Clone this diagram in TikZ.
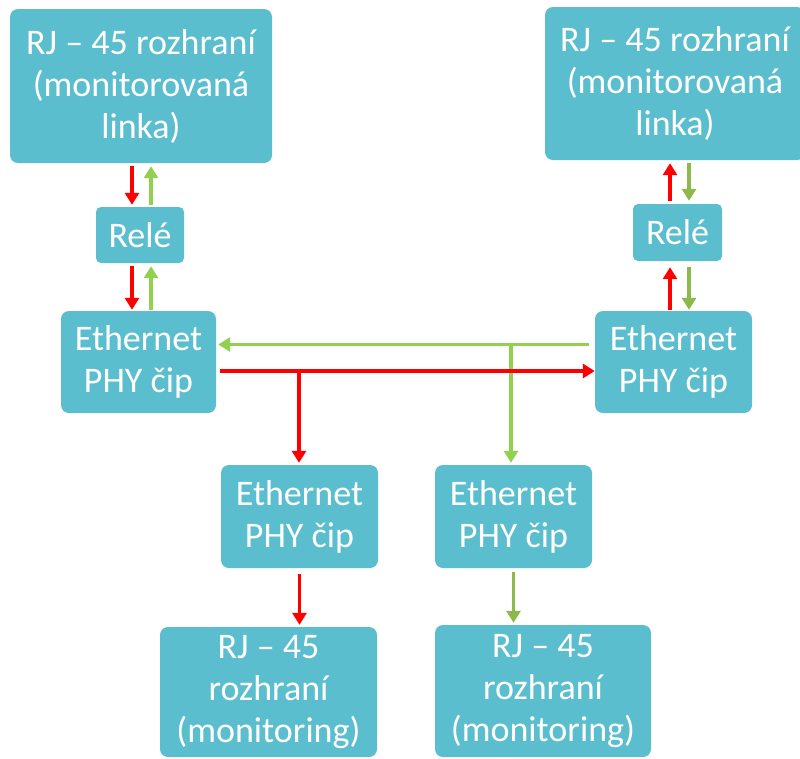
\documentclass[tikz,border=0pt]{standalone}
\usepackage{fontspec}
\setmainfont{Carlito}
\usetikzlibrary{arrows.meta}
\definecolor{boxfill}{RGB}{91,190,206}
\definecolor{arrred}{RGB}{255,0,0}
\definecolor{arrgreen}{RGB}{146,208,80}
\definecolor{arrolive}{RGB}{141,184,76}
\tikzset{
  box/.style={rectangle, rounded corners=8pt, fill=boxfill, text=white, align=center,
    inner sep=0pt, font=\fontsize{36}{42}\selectfont},
  smallbox/.style={box, rounded corners=5pt},
  tip/.style={-{Triangle[width=14pt,length=12pt]}},
  redarr/.style={draw=arrred, line width=3.6pt, tip},
  greenarr/.style={draw=arrgreen, line width=3.6pt, tip},
  olivearr/.style={draw=arrolive, line width=3.6pt, tip},
}
\begin{document}
\begin{tikzpicture}[x=1pt,y=-1pt]
\useasboundingbox (0,0) rectangle (800,758);
\clip (0,0) rectangle (800,758);
\fill[white] (0,0) rectangle (800,758);
% boxes
\node[box, minimum width=262pt, minimum height=154pt] (rjTL) at (141,86) {RJ – 45 rozhraní\\(monitorovaná\\linka)};
\node[box, minimum width=260pt, minimum height=153pt] (rjTR) at (675,83.5) {RJ – 45 rozhraní\\(monitorovaná\\linka)};
\node[smallbox, minimum width=88pt, minimum height=56pt] (releL) at (140,235) {Relé};
\node[smallbox, minimum width=89pt, minimum height=57pt] (releR) at (677.5,232.5) {Relé};
\node[box, minimum width=155pt, minimum height=102pt] (ethL) at (138.5,362) {Ethernet\\PHY čip};
\node[box, minimum width=157pt, minimum height=102pt] (ethR) at (673.5,362) {Ethernet\\PHY čip};
\node[box, minimum width=157pt, minimum height=103pt] (ethML) at (299.5,516.5) {Ethernet\\PHY čip};
\node[box, minimum width=157pt, minimum height=103pt] (ethMR) at (513.5,516.5) {Ethernet\\PHY čip};
\node[box, minimum width=217pt, minimum height=130pt] (rjBL) at (268.5,692) {RJ – 45\\rozhraní\\(monitoring)};
\node[box, minimum width=216pt, minimum height=132pt] (rjBR) at (543,691) {RJ – 45\\rozhraní\\(monitoring)};
% helper coordinates
\coordinate (xlr) at (132,0);
\coordinate (xlg) at (151,0);
\coordinate (xrr) at (670,0);
\coordinate (xrg) at (689,0);
\coordinate (gy) at (0,344.5);
\coordinate (ry) at (0,371);
\coordinate (gx) at (511,0);
\coordinate (rx) at (299,0);
% left vertical arrows
\draw[redarr, shorten <=3pt, shorten >=2pt] (rjTL.south -| xlr) -- (releL.north -| xlr);
\draw[greenarr, shorten <=2pt, shorten >=3pt] (releL.north -| xlg) -- (rjTL.south -| xlg);
\draw[redarr, shorten <=3pt, shorten >=1pt] (releL.south -| xlr) -- (ethL.north -| xlr);
\draw[greenarr, shorten <=1pt, shorten >=3pt] (ethL.north -| xlg) -- (releL.south -| xlg);
% right vertical arrows
\draw[redarr, shorten <=3pt, shorten >=3pt] (releR.north -| xrr) -- (rjTR.south -| xrr);
\draw[olivearr, shorten <=3pt, shorten >=3pt] (rjTR.south -| xrg) -- (releR.north -| xrg);
\draw[redarr, shorten <=1pt, shorten >=6pt] (ethR.north -| xrr) -- (releR.south -| xrr);
\draw[olivearr, shorten <=6pt, shorten >=1pt] (releR.south -| xrg) -- (ethR.north -| xrg);
% horizontal links
\draw[greenarr, shorten <=6pt, shorten >=2pt] (ethR.west |- gy) -- (ethL.east |- gy);
\draw[greenarr, shorten >=2pt] (gx |- gy) -- (ethMR.north -| gx);
\draw[redarr, shorten <=4pt] (ethL.east |- ry) -- (ethR.west |- ry);
\draw[redarr, shorten >=2pt] (rx |- ry) -- (ethML.north -| rx);
% bottom arrows
\draw[redarr, shorten <=6pt, shorten >=2pt] (ethML.south) -- (ethML.south |- rjBL.north);
\draw[olivearr, shorten <=4pt, shorten >=2pt] (ethMR.south) -- (ethMR.south |- rjBR.north);
\end{tikzpicture}
\end{document}
